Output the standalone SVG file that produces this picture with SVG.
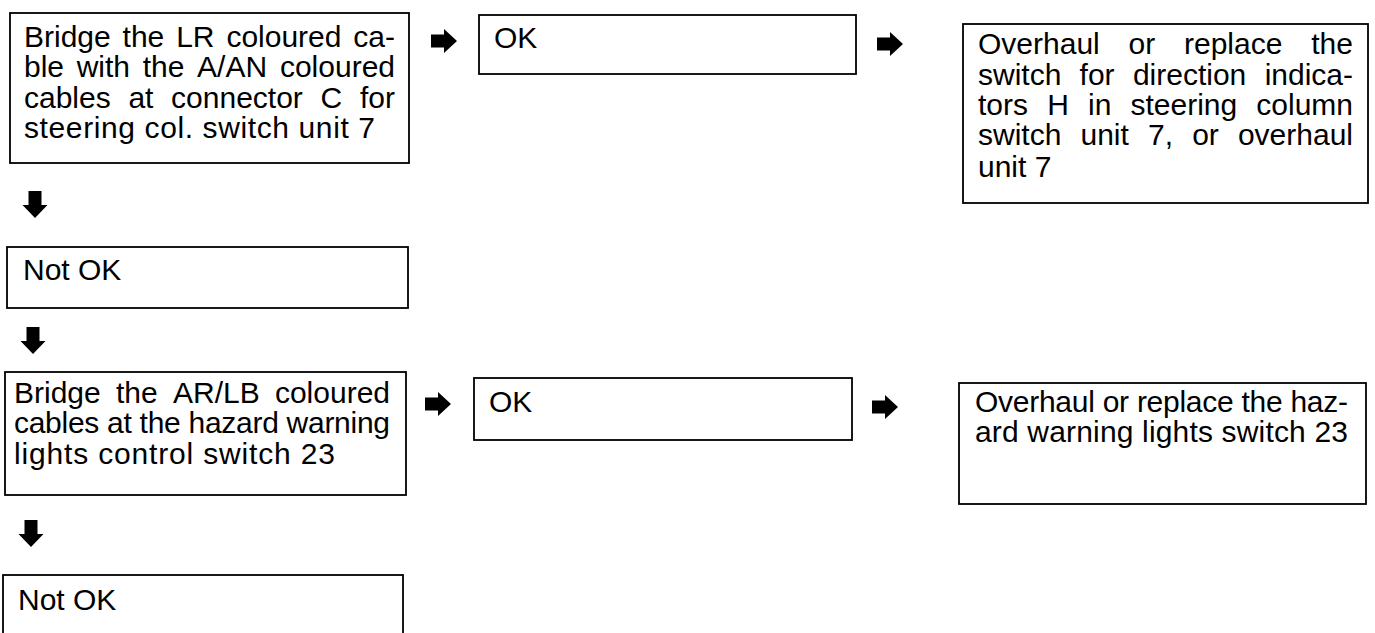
<svg xmlns="http://www.w3.org/2000/svg" width="1375" height="633" viewBox="0 0 1375 633">
<defs>
<style>
.box{fill:#fff;stroke:#000;stroke-width:1.8}
.t{font-family:"Liberation Sans",Arial,Helvetica,sans-serif;font-size:30px;fill:#000}
.e{text-anchor:end}
.arr{fill:#000}
</style>
<path id="ra" d="M0,-6.5 H13 V-12 L26,0 L13,12 V6.5 H0 Z"/>
<path id="da" d="M-6.5,0 V14 H-12.5 L0,27 L12.5,14 H6.5 V0 Z"/>
</defs>
<rect width="1375" height="633" fill="#fff"/>

<g id="connectors" class="arr">
<use href="#ra" x="431" y="41"/>
<use href="#ra" x="877" y="44"/>
<use href="#ra" x="425" y="404"/>
<use href="#ra" x="872" y="407"/>
<use href="#da" x="35" y="191"/>
<use href="#da" x="33" y="327"/>
<use href="#da" x="31" y="520"/>
</g>

<g id="n1">
<rect class="box" x="10" y="13" width="399" height="150"/>
<text class="t" y="47"><tspan x="24">Bridge</tspan><tspan x="122.6">the</tspan><tspan x="176.2">LR</tspan><tspan x="226.4">coloured</tspan><tspan x="395" class="e">ca-</tspan></text>
<text class="t" y="77"><tspan x="24">ble</tspan><tspan x="76.7">with</tspan><tspan x="142.7">the</tspan><tspan x="197.1">A/AN</tspan><tspan x="395" class="e">coloured</tspan></text>
<text class="t" y="108"><tspan x="24">cables</tspan><tspan x="128.4">at</tspan><tspan x="171.1">connector</tspan><tspan x="320.5">C</tspan><tspan x="395" class="e">for</tspan></text>
<text class="t" x="24" y="138" textLength="351" lengthAdjust="spacing">steering col. switch unit 7</text>
</g>

<g id="n2">
<rect class="box" x="479" y="15" width="377" height="59"/>
<text class="t" x="494" y="48">OK</text>
</g>

<g id="n3">
<rect class="box" x="963" y="24" width="405" height="179"/>
<text class="t" y="54"><tspan x="978">Overhaul</tspan><tspan x="1128.5">or</tspan><tspan x="1184">replace</tspan><tspan x="1353" class="e">the</tspan></text>
<text class="t" y="85"><tspan x="978">switch</tspan><tspan x="1079.6">for</tspan><tspan x="1132.9">direction</tspan><tspan x="1353" class="e">indica-</tspan></text>
<text class="t" y="115"><tspan x="978">tors</tspan><tspan x="1047.2">H</tspan><tspan x="1088">in</tspan><tspan x="1130.5">steering</tspan><tspan x="1353" class="e">column</tspan></text>
<text class="t" y="145"><tspan x="978">switch</tspan><tspan x="1080.5">unit</tspan><tspan x="1148">7,</tspan><tspan x="1192.2">or</tspan><tspan x="1353" class="e">overhaul</tspan></text>
<text class="t" x="978" y="177">unit 7</text>
</g>

<g id="n4">
<rect class="box" x="7" y="247" width="401" height="61"/>
<text class="t" x="23" y="280">Not OK</text>
</g>

<g id="n5">
<rect class="box" x="5" y="372" width="401" height="123"/>
<text class="t" y="403"><tspan x="14">Bridge</tspan><tspan x="116">the</tspan><tspan x="173">AR/LB</tspan><tspan x="390" class="e">coloured</tspan></text>
<text class="t" x="14" y="433" textLength="376" lengthAdjust="spacing">cables at the hazard warning</text>
<text class="t" x="14" y="464" textLength="321" lengthAdjust="spacing">lights control switch 23</text>
</g>

<g id="n6">
<rect class="box" x="474" y="378" width="378" height="62"/>
<text class="t" x="489" y="412">OK</text>
</g>

<g id="n7">
<rect class="box" x="959" y="383" width="407" height="121"/>
<text class="t" x="975" y="412" textLength="373" lengthAdjust="spacing">Overhaul or replace the haz-</text>
<text class="t" x="975" y="442" textLength="373" lengthAdjust="spacing">ard warning lights switch 23</text>
</g>

<g id="n8">
<rect class="box" x="3" y="575" width="400" height="80"/>
<text class="t" x="18" y="610">Not OK</text>
</g>
</svg>
